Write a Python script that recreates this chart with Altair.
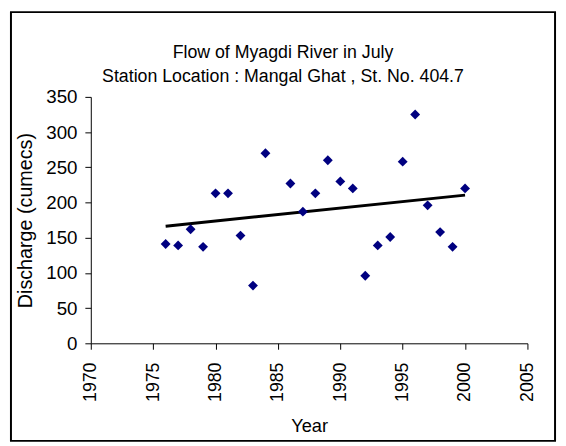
import altair as alt
import pandas as pd

# ---- data ----
years = [1976, 1977, 1978, 1979, 1980, 1981, 1982, 1983, 1984,
         1986, 1987, 1988, 1989, 1990, 1991, 1992, 1993, 1994,
         1995, 1996, 1997, 1998, 1999, 2000]
discharge = [141, 139, 162, 137, 213, 213, 153, 82, 270,
             227, 187, 213, 260, 230, 220, 96, 139, 151,
             258, 325, 196, 158, 137, 220]
x_ticks = [1970, 1975, 1980, 1985, 1990, 1995, 2000, 2005]
y_ticks = [0, 50, 100, 150, 200, 250, 300, 350]
title_line1 = "Flow of Myagdi River in July"
title_line2 = "Station Location : Mangal Ghat , St. No. 404.7"
x_title = "Year"
y_title = "Discharge (cumecs)"

df = pd.DataFrame({"Year": years, "Discharge": discharge})

FONT = "Liberation Sans, Arial, sans-serif"

W, H = 443, 250

x_enc = alt.X(
    "Year:Q",
    scale=alt.Scale(domain=[1970, 2005], nice=False, zero=False),
    axis=alt.Axis(
        values=x_ticks, format="d", grid=False,
        labelAngle=270, labelFont=FONT, labelFontSize=18, labelColor="black",
        labelPadding=13, tickSize=6, tickColor="black", domainColor="black",
        labelOverlap=False,
        title=x_title, titleFont=FONT, titleFontSize=18.5, titleFontWeight="normal",
        titleColor="black", titleX=W / 2, titleY=89, titleBaseline="alphabetic",
        titleAlign="center",
    ),
)
y_enc = alt.Y(
    "Discharge:Q",
    scale=alt.Scale(domain=[0, 350], nice=False),
    axis=alt.Axis(
        values=y_ticks, grid=False, labelOverlap=False,
        labelFont=FONT, labelFontSize=19, labelColor="black", labelPadding=8,
        tickSize=6, tickColor="black", domainColor="black",
        title=y_title, titleFont=FONT, titleFontSize=20, titleFontWeight="normal",
        titleColor="black", titleX=-60, titleY=H / 2, titleAngle=270,
        titleBaseline="alphabetic", titleAlign="center",
    ),
)

base = alt.Chart(df)

points = base.mark_point(
    shape="diamond", filled=True, size=100, color="#000080", opacity=1
).encode(x=x_enc, y=y_enc)

trend = base.transform_regression("Year", "Discharge").mark_line(
    color="black", strokeWidth=3
).encode(x=x_enc, y=y_enc)

one = alt.Data(values=[{"k": 0}])

t1 = alt.Chart(one).mark_text(
    font=FONT, fontSize=18, color="black", align="center", baseline="alphabetic"
).encode(x=alt.value(195), y=alt.value(-39), text=alt.value(title_line1))

t2 = alt.Chart(one).mark_text(
    font=FONT, fontSize=18, color="black", align="center", baseline="alphabetic"
).encode(x=alt.value(195), y=alt.value(-15), text=alt.value(title_line2))

frame = alt.Chart(one).mark_rect(
    fill="transparent", stroke="black", strokeWidth=2
).encode(x=alt.value(-81), x2=alt.value(471), y=alt.value(-86), y2=alt.value(349))

chart = alt.layer(frame, trend, points, t1, t2).properties(
    width=W, height=H,
    autosize=alt.AutoSizeParams(type="none"),
    padding={"left": 84, "top": 87, "right": 31, "bottom": 101},
    background="white",
).configure_view(stroke="transparent")

chart.save("out.html", embed_options={"renderer": "svg", "actions": False})
